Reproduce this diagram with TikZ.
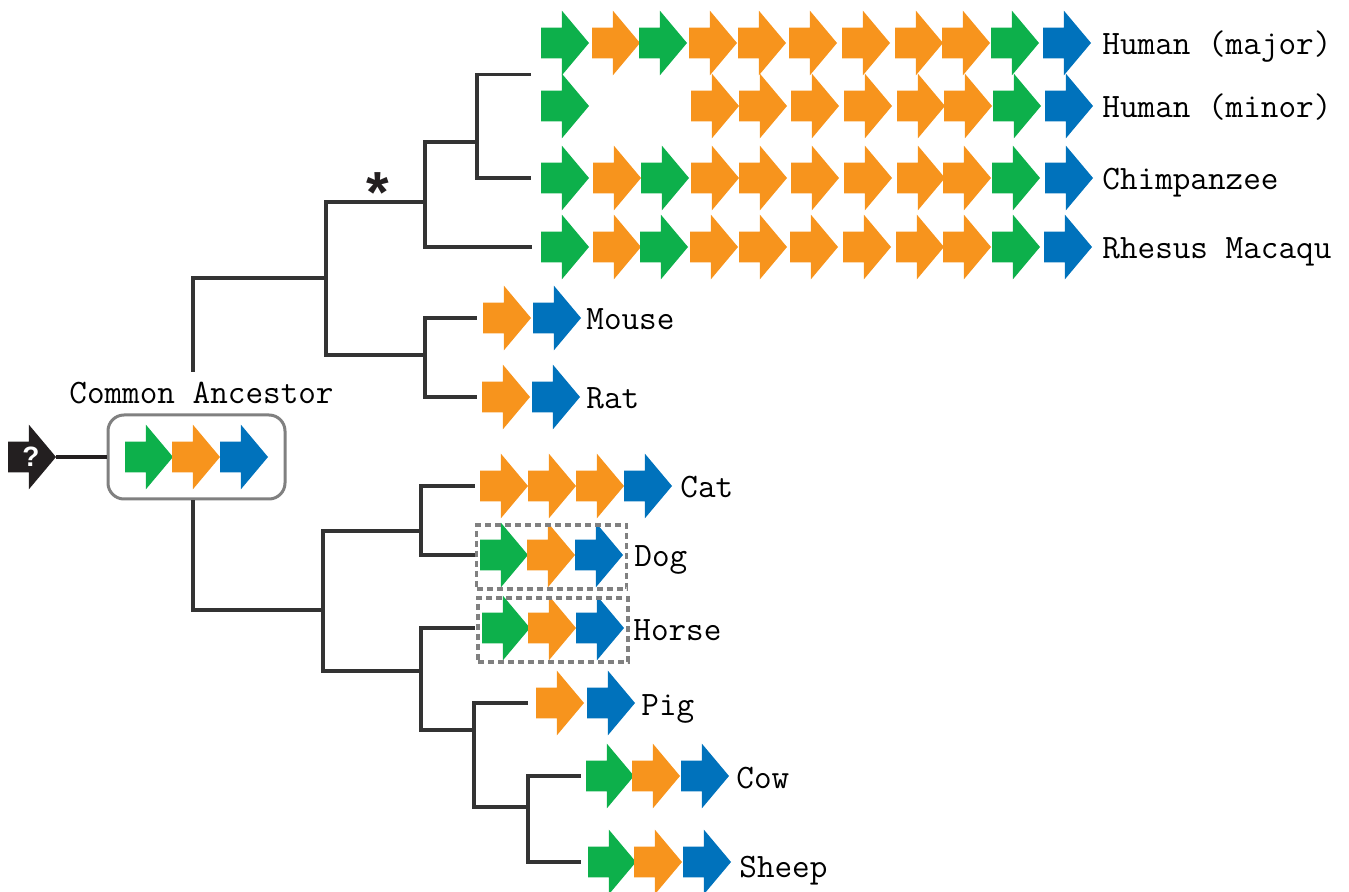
\documentclass[tikz,border=0pt]{standalone}
\usepackage{fontspec}
\setsansfont{Liberation Sans}
\usetikzlibrary{shapes.arrows, positioning, calc}
\definecolor{grn}{HTML}{0DB04B}
\definecolor{org}{HTML}{F7941D}
\definecolor{blu}{HTML}{0072BC}
\definecolor{ink}{HTML}{231F20}
\definecolor{branchgray}{HTML}{333333}
\definecolor{boxgray}{HTML}{808080}
\tikzset{
gene/.style={single arrow, draw=none, inner sep=0pt, outer sep=0pt, text width=0pt, text height=15pt, text depth=0pt, minimum height=24pt, single arrow head extend=8.5pt, single arrow tip angle=100, anchor=tail}, % one block of the gene
taxon/.style={font=\ttfamily\fontsize{17.1}{18}\selectfont, inner sep=0pt, text height=13pt, text depth=1pt}, % species names
branch/.style={draw=branchgray, line width=1.6pt}, % tree edges
dashbox/.style={draw=boxgray, line width=1.6pt, dash pattern=on 3pt off 2pt, minimum width=75pt, minimum height=32pt},
}

\begin{document}
\begin{tikzpicture}[x=0.5pt, y=-0.5pt]
  \useasboundingbox (0,0) rectangle (1349,892);

  % Gene blocks, one row per species
  \foreach \x/\c [count=\i] in {541/grn, 592/org, 639/grn, 689/org, 738/org, 789/org, 842/org, 895/org, 942/org, 991/grn, 1043/blu}
    \node[gene, fill=\c] (hma\i) at (\x,43) {};
  \foreach \x/\c [count=\i] in {541/grn, 691/org, 739/org, 791/org, 844/org, 897/org, 944/org, 993/grn, 1045/blu}
    \node[gene, fill=\c] (hmi\i) at (\x,106) {};
  \foreach \x/\c [count=\i] in {541/grn, 593/org, 641/grn, 691/org, 739/org, 791/org, 844/org, 897/org, 943/org, 992/grn, 1045/blu}
    \node[gene, fill=\c] (chi\i) at (\x,178) {};
  \foreach \x/\c [count=\i] in {541/grn, 593/org, 640/grn, 690/org, 739/org, 790/org, 843/org, 896/org, 943/org, 992/grn, 1044/blu}
    \node[gene, fill=\c] (rhe\i) at (\x,247) {};
  \foreach \x/\c [count=\i] in {483/org, 533/blu}
    \node[gene, fill=\c] (mou\i) at (\x,318) {};
  \foreach \x/\c [count=\i] in {482/org, 532/blu}
    \node[gene, fill=\c] (rat\i) at (\x,397) {};
  \foreach \x/\c [count=\i] in {125/grn, 172/org, 220/blu}
    \node[gene, fill=\c] (anc\i) at (\x,457) {};
  \foreach \x/\c [count=\i] in {480/org, 528/org, 576/org, 624/blu}
    \node[gene, fill=\c] (cat\i) at (\x,486) {};
  \foreach \x/\c [count=\i] in {480/grn, 527/org, 575/blu}
    \node[gene, fill=\c] (dog\i) at (\x,555) {};
  \foreach \x/\c [count=\i] in {482/grn, 528/org, 576/blu}
    \node[gene, fill=\c] (hor\i) at (\x,628) {};
  \foreach \x/\c [count=\i] in {536/org, 587/blu}
    \node[gene, fill=\c] (pig\i) at (\x,703) {};
  \foreach \x/\c [count=\i] in {586/grn, 632/org, 681/blu}
    \node[gene, fill=\c] (cow\i) at (\x,776) {};
  \foreach \x/\c [count=\i] in {588/grn, 634/org, 683/blu}
    \node[gene, fill=\c] (she\i) at (\x,862) {};

  % Ancestor
  \node[gene, fill=ink] (q) at (8,457) {};
  \node[text=white, font=\sffamily\bfseries\fontsize{14}{14}\selectfont, inner sep=0pt] (qmark) at ([xshift=11.5pt]q.tail) {?};
  \node[draw=boxgray, line width=1.5pt, rounded corners=8pt, minimum width=88.5pt, minimum height=42pt] (anc) at ($(anc1.tail)!.5!(anc3.tip)$) {};
  \node[taxon, above=4pt of anc, xshift=2.5pt] (ancl) {Common Ancestor};
  \draw[branch, draw=ink] (q.tip) -- (anc.west);

  % Boxes
  \node[dashbox] (dogbox) at ($(dog1.tail)!.5!(dog3.tip)+(0,-1pt)$) {};
  \node[dashbox] (horbox) at ($(hor1.tail)!.5!(hor3.tip)+(0,-1pt)$) {};

  % Labels
  \node[taxon, right=5.5pt of hma11.tip] {Human (major)};
  \node[taxon, right=4.5pt of hmi9.tip] {Human (minor)};
  \node[taxon, right=4.5pt of chi11.tip] {Chimpanzee};
  \node[taxon, right=5pt of rhe11.tip] {Rhesus Macaqu};
  \node[taxon, right=2.5pt of mou2.tip] {Mouse};
  \node[taxon, right=3pt of rat2.tip] {Rat};
  \node[taxon, right=4pt of cat4.tip] {Cat};
  \node[taxon, right=5.5pt of dog3.tip] {Dog};
  \node[taxon, right=4.5pt of hor3.tip] {Horse};
  \node[taxon, right=3pt of pig2.tip] {Pig};
  \node[taxon, right=3.5pt of cow3.tip] {Cow};
  \node[taxon, right=4pt of she3.tip, yshift=-1.5pt] {Sheep};

  % Tree junctions
  \coordinate (stem) at (193,372);
  \coordinate (eu) at (326,278);
  \coordinate (pri) at (425,202);
  \coordinate (hom) at (477,142);
  \coordinate (rod) at (425,355);
  \coordinate (lau) at (323,610);
  \coordinate (car) at (421,531);
  \coordinate (ung) at (421,671);
  \coordinate (art) at (474,730);
  \coordinate (rum) at (528,807);
  \node[font=\sffamily\bfseries\fontsize{29}{29}\selectfont, text=ink, anchor=base, inner sep=0pt] (clade) at (378,213) {*};

  % Tree edges
  \draw[branch] (stem) |- (eu);
  \draw[branch] (eu) |- (pri);
  \draw[branch] (eu) |- (rod);
  \draw[branch] (pri) |- (hom);
  \draw[branch] (pri) |- ([xshift=-4.5pt]rhe1.tail);
  \draw[branch] (hom) |- ($(hma1.tail)!.5!(hmi1.tail)+(-5pt,0)$);
  \draw[branch] (hom) |- ([xshift=-5pt]chi1.tail);
  \draw[branch] (rod) |- ([xshift=-3pt]mou1.tail);
  \draw[branch] (rod) |- ([xshift=-2.5pt]rat1.tail);
  \draw[branch] (stem |- anc.south) |- (lau);
  \draw[branch] (lau) |- (car);
  \draw[branch] (lau) |- (ung);
  \draw[branch] (car) |- ([xshift=-2.5pt]cat1.tail);
  \draw[branch] (car) |- ([xshift=-2.5pt]dog1.tail);
  \draw[branch] (ung) |- ([xshift=-3.5pt]hor1.tail);
  \draw[branch] (ung) |- (art);
  \draw[branch] (art) |- ([xshift=-4pt]pig1.tail);
  \draw[branch] (art) |- (rum);
  \draw[branch] (rum) |- ([xshift=-2.5pt]cow1.tail);
  \draw[branch] (rum) |- ([xshift=-3.5pt]she1.tail);
\end{tikzpicture}
\end{document}
